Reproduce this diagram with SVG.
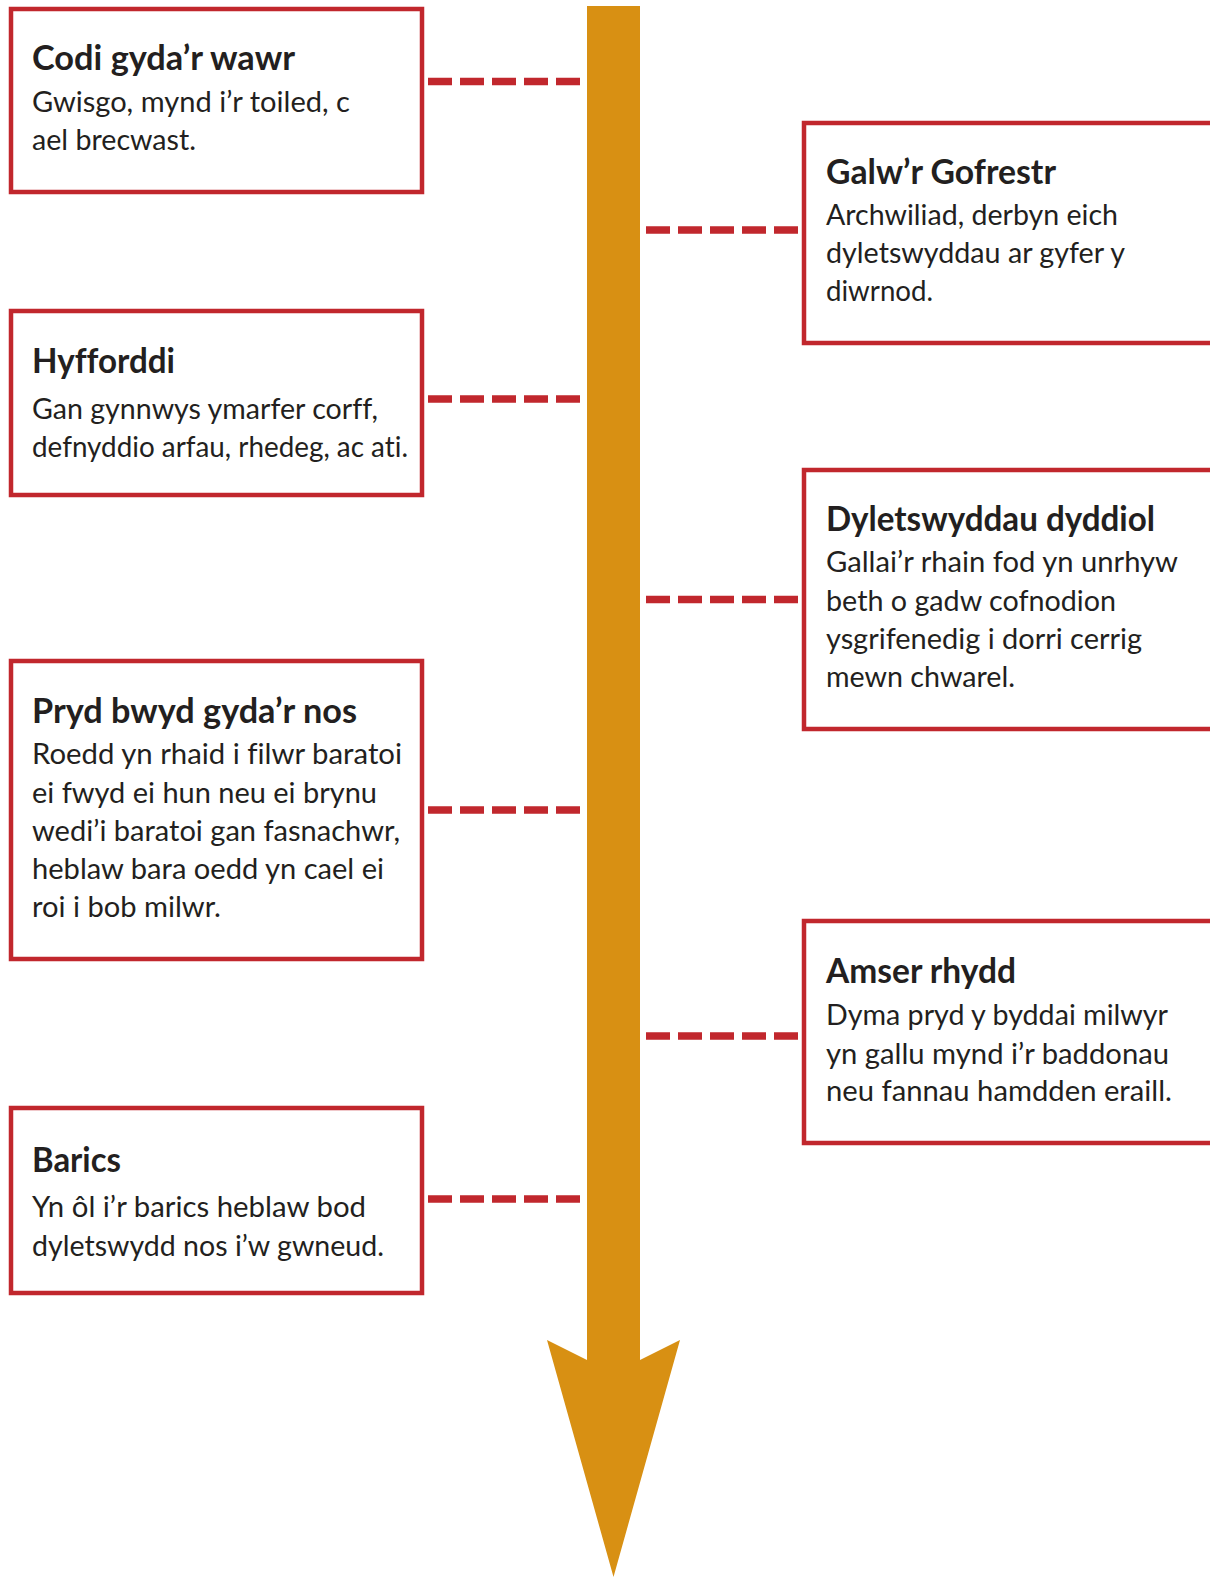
<svg xmlns="http://www.w3.org/2000/svg" width="1210" height="1577" viewBox="0 0 1210 1577">
<style>
.box{fill:#fff;stroke:#C1272D;stroke-width:4.5}
.t{font-family:Lato,"Open Sans","Liberation Sans",sans-serif;font-weight:700;font-size:35px;fill:#231F20;font-variant-ligatures:none}
.b{font-family:Lato,"Open Sans","Liberation Sans",sans-serif;font-weight:400;font-size:29.5px;fill:#231F20;font-variant-ligatures:none}
.dash{stroke:#C1272D;stroke-width:7.5;stroke-dasharray:24 8;fill:none}
</style>
<rect width="1210" height="1577" fill="#fff"/>
<g id="timeline">
<polygon points="587,6 640,6 640,1360 680,1340 613.5,1577 547,1340 587,1360" fill="#D89013"/>
</g>
<g id="connectors">
<line class="dash" x1="428" y1="81.5" x2="584" y2="81.5"/>
<line class="dash" x1="428" y1="399" x2="584" y2="399"/>
<line class="dash" x1="428" y1="810" x2="584" y2="810"/>
<line class="dash" x1="428" y1="1199" x2="584" y2="1199"/>
<line class="dash" x1="646" y1="230" x2="802" y2="230"/>
<line class="dash" x1="646" y1="599.5" x2="802" y2="599.5"/>
<line class="dash" x1="646" y1="1036" x2="802" y2="1036"/>
</g>
<g id="codi">
<rect class="box" x="11" y="9" width="411" height="183"/>
<text class="t" x="32" y="70" textLength="263" lengthAdjust="spacingAndGlyphs">Codi gyda’r wawr</text>
<text class="b" x="32" y="112" textLength="318" lengthAdjust="spacingAndGlyphs">Gwisgo, mynd i’r toiled, c</text>
<text class="b" x="32" y="150" textLength="164" lengthAdjust="spacingAndGlyphs">ael brecwast.</text>
</g>
<g id="hyfforddi">
<rect class="box" x="11" y="311" width="411" height="184"/>
<text class="t" x="32" y="373" textLength="143" lengthAdjust="spacingAndGlyphs">Hyfforddi</text>
<text class="b" x="32" y="419" textLength="346" lengthAdjust="spacingAndGlyphs">Gan gynnwys ymarfer corff,</text>
<text class="b" x="32" y="457" textLength="376" lengthAdjust="spacingAndGlyphs">defnyddio arfau, rhedeg, ac ati.</text>
</g>
<g id="pryd">
<rect class="box" x="11" y="661" width="411" height="298"/>
<text class="t" x="32" y="723" textLength="325" lengthAdjust="spacingAndGlyphs">Pryd bwyd gyda’r nos</text>
<text class="b" x="32" y="764" textLength="370" lengthAdjust="spacingAndGlyphs">Roedd yn rhaid i filwr baratoi</text>
<text class="b" x="32" y="803" textLength="345" lengthAdjust="spacingAndGlyphs">ei fwyd ei hun neu ei brynu</text>
<text class="b" x="32" y="841" textLength="368" lengthAdjust="spacingAndGlyphs">wedi’i baratoi gan fasnachwr,</text>
<text class="b" x="32" y="879" textLength="352" lengthAdjust="spacingAndGlyphs">heblaw bara oedd yn cael ei</text>
<text class="b" x="32" y="917" textLength="189" lengthAdjust="spacingAndGlyphs">roi i bob milwr.</text>
</g>
<g id="barics">
<rect class="box" x="11" y="1108" width="411" height="185"/>
<text class="t" x="32" y="1172" textLength="89" lengthAdjust="spacingAndGlyphs">Barics</text>
<text class="b" x="32" y="1217" textLength="334" lengthAdjust="spacingAndGlyphs">Yn ôl i’r barics heblaw bod</text>
<text class="b" x="32" y="1256" textLength="352" lengthAdjust="spacingAndGlyphs">dyletswydd nos i’w gwneud.</text>
</g>
<g id="galw">
<rect class="box" x="804" y="123" width="420" height="220"/>
<text class="t" x="826" y="184" textLength="230" lengthAdjust="spacingAndGlyphs">Galw’r Gofrestr</text>
<text class="b" x="826" y="225" textLength="292" lengthAdjust="spacingAndGlyphs">Archwiliad, derbyn eich</text>
<text class="b" x="826" y="263" textLength="299" lengthAdjust="spacingAndGlyphs">dyletswyddau ar gyfer y</text>
<text class="b" x="826" y="301" textLength="107" lengthAdjust="spacingAndGlyphs">diwrnod.</text>
</g>
<g id="dyletswyddau">
<rect class="box" x="804" y="470" width="420" height="259"/>
<text class="t" x="826" y="531" textLength="329" lengthAdjust="spacingAndGlyphs">Dyletswyddau dyddiol</text>
<text class="b" x="826" y="572" textLength="352" lengthAdjust="spacingAndGlyphs">Gallai’r rhain fod yn unrhyw</text>
<text class="b" x="826" y="611" textLength="290" lengthAdjust="spacingAndGlyphs">beth o gadw cofnodion</text>
<text class="b" x="826" y="649" textLength="316" lengthAdjust="spacingAndGlyphs">ysgrifenedig i dorri cerrig</text>
<text class="b" x="826" y="687" textLength="189" lengthAdjust="spacingAndGlyphs">mewn chwarel.</text>
</g>
<g id="amser">
<rect class="box" x="804" y="921" width="420" height="222"/>
<text class="t" x="826" y="983" textLength="190" lengthAdjust="spacingAndGlyphs">Amser rhydd</text>
<text class="b" x="826" y="1025" textLength="342" lengthAdjust="spacingAndGlyphs">Dyma pryd y byddai milwyr</text>
<text class="b" x="826" y="1064" textLength="343" lengthAdjust="spacingAndGlyphs">yn gallu mynd i’r baddonau</text>
<text class="b" x="826" y="1101" textLength="346" lengthAdjust="spacingAndGlyphs">neu fannau hamdden eraill.</text>
</g>
</svg>
